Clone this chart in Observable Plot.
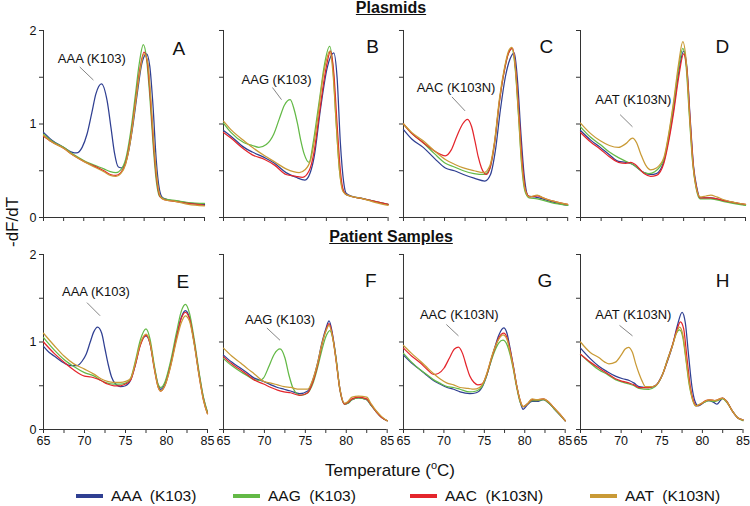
<!DOCTYPE html>
<html><head><meta charset="utf-8">
<script src="https://cdn.jsdelivr.net/npm/d3@7"></script>
<script src="https://cdn.jsdelivr.net/npm/@observablehq/plot@0.6"></script>
<style>
body{margin:0;background:#fff;width:750px;height:506px;position:relative;overflow:hidden;font-family:"Liberation Sans",Arial,sans-serif;color:#111;}
.abs{position:absolute;white-space:pre;}
</style></head><body>
<script>
// ---------- data ----------
const seriesNames = ["AAA (K103)", "AAG (K103)", "AAC (K103N)", "AAT (K103N)"];
const seriesColors = ["#2f3f92", "#63b946", "#e4252c", "#c99a36"];
const panelLetters = ["A","B","C","D","E","F","G","H"];
const xTicks = [65, 67.5, 70, 72.5, 75, 77.5, 80, 82.5, 85];
const xTickLabels = [65, 70, 75, 80, 85];
const yTicks = [0, 0.5, 1, 1.5, 2];
const yTickLabels = [0, 1, 2];

// Panel A (Plasmids)
const A_AAA = [[65,0.91],[66,0.83],[67.5,0.75],[68.5,0.70],[69.1,0.69],[69.8,0.75],[70.4,0.89],[71,1.12],[71.5,1.32],[72.2,1.43],[72.9,1.25],[73.4,0.95],[73.8,0.70],[74.3,0.54],[74.8,0.53],[75.5,0.68],[76.1,0.98],[76.7,1.36],[77.2,1.64],[77.8,1.75],[78.2,1.62],[78.6,1.2],[79,0.62],[79.4,0.30],[79.8,0.21],[80.5,0.19],[82,0.17],[83.5,0.15],[85,0.14]];
const A_AAG = [[65,0.89],[66,0.82],[67.5,0.75],[68.8,0.67],[70,0.61],[71.3,0.56],[72.5,0.52],[73.3,0.49],[74,0.48],[74.6,0.51],[75.2,0.62],[75.8,0.90],[76.4,1.30],[76.9,1.65],[77.4,1.85],[77.8,1.70],[78.2,1.30],[78.6,0.80],[79,0.40],[79.4,0.23],[80,0.20],[81.5,0.18],[83,0.16],[85,0.15]];
const A_AAC = [[65,0.87],[66,0.81],[67.5,0.74],[68.8,0.66],[70,0.60],[71.3,0.55],[72.5,0.50],[73.3,0.46],[74,0.45],[74.6,0.48],[75.2,0.58],[75.8,0.84],[76.4,1.22],[76.9,1.55],[77.5,1.77],[77.9,1.66],[78.3,1.25],[78.7,0.75],[79.1,0.38],[79.5,0.22],[80,0.19],[81.5,0.17],[83,0.15],[85,0.13]];
const A_AAT = [[65,0.88],[66,0.81],[67.5,0.74],[68.8,0.66],[70,0.60],[71.3,0.54],[72.5,0.49],[73.3,0.45],[74,0.44],[74.6,0.47],[75.2,0.57],[75.8,0.82],[76.4,1.20],[76.9,1.52],[77.5,1.75],[77.95,1.66],[78.35,1.25],[78.75,0.75],[79.15,0.38],[79.55,0.22],[80,0.19],[81.5,0.17],[83,0.14],[85,0.125]];

// Panel B
const B_AAA = [[65,0.93],[65.9,0.87],[67.5,0.75],[68.5,0.70],[70,0.64],[71.2,0.58],[72.6,0.48],[73.8,0.43],[74.9,0.40],[75.5,0.47],[76,0.64],[76.8,1.17],[77.6,1.60],[78.4,1.76],[78.8,1.50],[79.2,0.80],[79.6,0.38],[79.9,0.26],[80.5,0.23],[82.1,0.20],[83.5,0.17],[85,0.14]];
const B_AAG = [[65,1.01],[65.9,0.91],[67.5,0.80],[68.5,0.77],[69.3,0.75],[70.2,0.78],[71.1,0.89],[71.8,1.06],[72.4,1.20],[73.1,1.26],[73.6,1.15],[74,1.00],[74.4,0.82],[74.8,0.68],[75.4,0.59],[75.9,0.80],[76.4,1.10],[76.8,1.35],[77.2,1.60],[77.9,1.83],[78.3,1.60],[78.7,1.00],[79.1,0.50],[79.5,0.30],[80,0.24],[82,0.20],[83.5,0.17],[85,0.14]];
const B_AAC = [[65,0.91],[65.9,0.85],[67.5,0.73],[68.5,0.67],[70,0.62],[71.2,0.56],[72.6,0.46],[73.8,0.44],[74.6,0.43],[75.4,0.50],[76,0.70],[76.6,1.08],[77.2,1.46],[77.6,1.66],[78,1.78],[78.4,1.55],[78.8,1.0],[79.2,0.50],[79.6,0.28],[80,0.24],[82,0.20],[83.5,0.17],[85,0.14]];
const B_AAT = [[65,1.03],[65.9,0.94],[67.5,0.82],[68.5,0.75],[70,0.66],[71.3,0.59],[72.6,0.52],[73.5,0.49],[74.2,0.48],[74.9,0.51],[75.6,0.62],[76.1,0.85],[76.5,1.10],[77,1.45],[77.5,1.68],[77.9,1.78],[78.3,1.55],[78.7,1.0],[79.1,0.50],[79.5,0.28],[80,0.24],[82,0.20],[83.5,0.16],[85,0.13]];

// Panel C
const C_AAA = [[65,0.94],[66,0.84],[67.4,0.75],[68.8,0.63],[70.1,0.53],[71.2,0.50],[72.3,0.46],[73.6,0.42],[74.9,0.39],[75.6,0.46],[76.2,0.72],[76.8,1.15],[77.4,1.50],[78,1.70],[78.5,1.76],[78.9,1.45],[79.3,0.90],[79.7,0.45],[80.2,0.23],[81,0.22],[81.5,0.21],[83,0.17],[85,0.13]];
const C_AAG = [[65,1.0],[66,0.90],[67.4,0.80],[68.8,0.68],[70.1,0.58],[71.2,0.54],[72.3,0.50],[73.6,0.47],[74.8,0.46],[75.5,0.52],[76.1,0.80],[76.7,1.25],[77.3,1.58],[77.8,1.76],[78.2,1.81],[78.6,1.60],[79,1.10],[79.4,0.55],[79.8,0.28],[80.3,0.21],[81.3,0.20],[83,0.16],[85,0.13]];
const C_AAC = [[65,1.0],[66,0.90],[67.4,0.80],[68.8,0.71],[70.1,0.66],[70.8,0.72],[71.5,0.87],[72.2,1.00],[72.8,1.05],[73.3,0.97],[73.7,0.82],[74.1,0.65],[74.5,0.53],[75.1,0.46],[75.6,0.55],[76.1,0.80],[76.7,1.25],[77.3,1.58],[77.8,1.76],[78.3,1.81],[78.7,1.55],[79.1,1.05],[79.5,0.55],[79.9,0.28],[80.4,0.22],[81.3,0.23],[82,0.21],[83,0.18],[85,0.14]];
const C_AAT = [[65,1.0],[66,0.91],[67.4,0.82],[68.8,0.71],[70.1,0.62],[71.2,0.57],[72.3,0.53],[73.6,0.50],[74.8,0.48],[75.5,0.55],[76.1,0.82],[76.7,1.28],[77.3,1.60],[77.8,1.78],[78.2,1.82],[78.6,1.62],[79,1.12],[79.4,0.58],[79.8,0.30],[80.3,0.22],[81.3,0.24],[82,0.21],[83,0.18],[85,0.14]];

// Panel D
const D_AAA = [[65,0.93],[66.2,0.83],[67.4,0.75],[68.5,0.67],[69.6,0.60],[70.5,0.59],[71.3,0.57],[72.7,0.48],[73.5,0.46],[74.2,0.47],[75.1,0.60],[75.7,0.85],[76.3,1.17],[76.9,1.55],[77.5,1.78],[77.9,1.60],[78.3,1.05],[78.7,0.55],[79.1,0.32],[79.5,0.21],[80.8,0.21],[82.4,0.18],[85,0.135]];
const D_AAG = [[65,0.97],[66.2,0.86],[67.4,0.78],[68.5,0.70],[69.6,0.64],[70.5,0.60],[71.3,0.57],[72.7,0.48],[73.3,0.47],[74,0.49],[75.1,0.62],[75.7,0.88],[76.3,1.22],[76.9,1.60],[77.4,1.81],[77.8,1.62],[78.2,1.08],[78.6,0.58],[79,0.32],[79.5,0.20],[80.8,0.20],[82.4,0.17],[85,0.13]];
const D_AAC = [[65,0.91],[66.2,0.81],[67.4,0.73],[68.5,0.65],[69.6,0.59],[70.5,0.58],[71.1,0.59],[71.6,0.57],[72.7,0.47],[73.5,0.44],[74.2,0.45],[75.1,0.58],[75.7,0.82],[76.3,1.13],[76.9,1.50],[77.5,1.75],[77.9,1.58],[78.3,1.02],[78.7,0.53],[79.1,0.30],[79.5,0.21],[80.8,0.21],[82.4,0.18],[85,0.14]];
const D_AAT = [[65,1.01],[66.2,0.90],[67.4,0.82],[68.5,0.77],[69.6,0.75],[70.5,0.79],[71.3,0.85],[71.8,0.80],[72.3,0.68],[72.9,0.56],[73.5,0.51],[74.2,0.53],[75.1,0.64],[75.7,0.90],[76.3,1.25],[76.9,1.65],[77.4,1.88],[77.8,1.68],[78.2,1.12],[78.6,0.60],[79,0.33],[79.5,0.22],[80.2,0.23],[80.8,0.24],[81.5,0.22],[82.4,0.19],[85,0.14]];

// Panel E (Patient samples)
const E_AAA = [[65,0.95],[65.7,0.88],[66.3,0.84],[67.5,0.76],[68.3,0.73],[69.1,0.73],[69.7,0.78],[70.2,0.86],[70.7,1.0],[71.1,1.11],[71.6,1.17],[72.1,1.10],[72.5,0.92],[72.9,0.74],[73.3,0.60],[73.7,0.53],[74.4,0.49],[75,0.50],[75.6,0.56],[76.2,0.74],[76.8,0.97],[77.5,1.07],[78,0.98],[78.5,0.72],[79,0.50],[79.3,0.46],[79.8,0.52],[80.5,0.75],[81.2,1.05],[81.8,1.28],[82.3,1.36],[82.8,1.28],[83.4,0.98],[84,0.62],[84.5,0.36],[85,0.19]];
const E_AAG = [[65,1.05],[66.3,0.91],[67.5,0.80],[68.7,0.72],[70,0.65],[71.2,0.61],[72,0.56],[72.8,0.53],[73.6,0.52],[74.4,0.52],[75,0.53],[75.6,0.58],[76.2,0.78],[76.8,1.02],[77.5,1.15],[78,1.03],[78.5,0.74],[79,0.51],[79.3,0.48],[79.8,0.54],[80.5,0.78],[81.2,1.10],[81.8,1.35],[82.3,1.43],[82.8,1.33],[83.4,1.02],[84,0.64],[84.5,0.37],[85,0.20]];
const E_AAC = [[65,1.0],[66.3,0.87],[67.5,0.77],[68.7,0.68],[70,0.61],[70.8,0.60],[71.5,0.58],[72,0.56],[72.8,0.52],[73.6,0.50],[74.4,0.50],[75,0.52],[75.6,0.56],[76.2,0.74],[76.8,0.96],[77.5,1.08],[78,0.98],[78.5,0.70],[79,0.48],[79.3,0.44],[79.8,0.50],[80.5,0.73],[81.2,1.04],[81.8,1.27],[82.3,1.34],[82.8,1.27],[83.4,0.98],[84,0.60],[84.5,0.34],[85,0.18]];
const E_AAT = [[65,1.10],[66.3,0.96],[67.5,0.84],[68.7,0.75],[70,0.69],[71.2,0.63],[72,0.58],[72.8,0.55],[73.6,0.54],[74.4,0.54],[75,0.55],[75.6,0.58],[76.2,0.76],[76.8,0.98],[77.5,1.09],[78,0.99],[78.5,0.71],[79,0.48],[79.3,0.44],[79.8,0.50],[80.5,0.72],[81.2,1.01],[81.8,1.22],[82.3,1.30],[82.8,1.24],[83.4,0.96],[84,0.60],[84.5,0.34],[85,0.18]];

// Panel F
const F_AAA = [[65,0.85],[66,0.77],[67.1,0.70],[68,0.64],[68.7,0.59],[69.9,0.55],[70.8,0.51],[71.6,0.48],[72.4,0.46],[73.2,0.44],[74.3,0.41],[75.3,0.44],[75.9,0.56],[76.5,0.76],[77,0.98],[77.5,1.15],[77.9,1.24],[78.3,1.10],[78.7,0.85],[79.2,0.48],[79.8,0.29],[80.2,0.30],[80.7,0.34],[81.5,0.36],[82.5,0.34],[83,0.28],[83.6,0.21],[84.3,0.14],[85,0.10]];
const F_AAG = [[65,0.81],[66,0.73],[67.1,0.66],[68,0.61],[68.7,0.57],[69.4,0.56],[69.9,0.59],[70.5,0.71],[71.2,0.86],[71.9,0.92],[72.5,0.82],[73,0.62],[73.5,0.47],[74.1,0.40],[74.5,0.39],[75.3,0.42],[75.9,0.52],[76.5,0.71],[77,0.90],[77.5,1.06],[78,1.13],[78.4,1.02],[78.8,0.78],[79.2,0.46],[79.8,0.29],[80.2,0.30],[80.7,0.34],[81.5,0.36],[82.5,0.34],[83,0.28],[83.6,0.21],[84.3,0.14],[85,0.10]];
const F_AAC = [[65,0.83],[66,0.75],[67.1,0.68],[68,0.62],[68.7,0.57],[69.9,0.52],[70.8,0.48],[71.6,0.45],[72.4,0.43],[73.2,0.42],[74.3,0.39],[75.3,0.42],[75.9,0.54],[76.5,0.74],[77,0.96],[77.5,1.13],[77.9,1.21],[78.3,1.08],[78.7,0.83],[79.2,0.47],[79.8,0.29],[80.2,0.31],[80.7,0.35],[81.5,0.37],[82.5,0.35],[83,0.29],[83.6,0.21],[84.3,0.14],[85,0.10]];
const F_AAT = [[65,0.93],[66,0.84],[67.1,0.76],[68,0.69],[68.7,0.64],[69.9,0.55],[70.8,0.53],[71.6,0.51],[72.4,0.49],[73.2,0.48],[74.3,0.46],[75.3,0.46],[75.9,0.57],[76.5,0.76],[77,0.97],[77.5,1.12],[77.9,1.19],[78.3,1.07],[78.7,0.83],[79.2,0.48],[79.8,0.30],[80.2,0.32],[80.7,0.37],[81.5,0.38],[82.5,0.37],[83,0.30],[83.6,0.22],[84.3,0.15],[85,0.10]];

// Panel G
const G_AAA = [[65,0.85],[66,0.76],[67.1,0.68],[68,0.61],[68.7,0.56],[69.5,0.52],[70.4,0.48],[71.2,0.46],[72,0.43],[73.2,0.41],[74,0.42],[74.7,0.48],[75.3,0.62],[75.8,0.78],[76.3,0.94],[76.8,1.08],[77.4,1.16],[77.8,1.10],[78.2,0.92],[78.6,0.72],[79,0.50],[79.4,0.33],[79.8,0.23],[80.3,0.28],[80.9,0.32],[81.5,0.32],[82.3,0.34],[83,0.30],[83.6,0.24],[84.3,0.17],[85,0.10]];
const G_AAG = [[65,0.87],[66,0.77],[67.1,0.68],[68,0.62],[68.7,0.57],[69.5,0.53],[70.4,0.49],[71.2,0.48],[72,0.46],[73.2,0.43],[74,0.44],[74.7,0.49],[75.3,0.62],[75.8,0.77],[76.3,0.90],[76.8,0.99],[77.3,1.02],[77.8,0.97],[78.2,0.85],[78.6,0.68],[79,0.48],[79.4,0.32],[79.8,0.26],[80.3,0.29],[80.9,0.33],[81.5,0.33],[82.3,0.34],[83,0.30],[83.6,0.24],[84.3,0.17],[85,0.10]];
const G_AAC = [[65,0.93],[66,0.84],[67.1,0.76],[68,0.68],[68.7,0.63],[69.3,0.64],[70,0.70],[70.7,0.82],[71.3,0.92],[71.8,0.94],[72.3,0.87],[72.8,0.72],[73.2,0.61],[73.7,0.54],[74.2,0.51],[74.7,0.52],[75.3,0.63],[75.8,0.79],[76.3,0.93],[76.8,1.05],[77.4,1.10],[77.8,1.05],[78.2,0.90],[78.6,0.71],[79,0.50],[79.4,0.34],[79.8,0.26],[80.3,0.29],[80.9,0.34],[81.5,0.34],[82.3,0.35],[83,0.31],[83.6,0.25],[84.3,0.18],[85,0.10]];
const G_AAT = [[65,0.96],[66,0.87],[67.1,0.78],[68,0.70],[68.7,0.64],[69.5,0.58],[70.4,0.53],[71.2,0.51],[72,0.48],[73,0.47],[73.7,0.46],[74.4,0.48],[75,0.56],[75.5,0.70],[76,0.86],[76.6,1.0],[77.3,1.08],[77.8,1.03],[78.2,0.88],[78.6,0.70],[79,0.50],[79.4,0.34],[79.8,0.26],[80.3,0.29],[80.9,0.35],[81.5,0.34],[82.3,0.35],[83,0.31],[83.6,0.25],[84.3,0.18],[85,0.10]];

// Panel H
const H_AAA = [[65,0.93],[66.2,0.81],[67.3,0.72],[68.3,0.66],[69.3,0.61],[70.2,0.58],[71,0.56],[71.6,0.53],[72.2,0.49],[73.4,0.48],[74.2,0.50],[75.1,0.63],[75.7,0.78],[76.3,0.95],[76.9,1.18],[77.5,1.34],[77.9,1.22],[78.3,0.85],[78.7,0.50],[79.1,0.32],[79.5,0.27],[80.2,0.31],[80.8,0.33],[81.4,0.31],[81.8,0.29],[82.2,0.33],[82.5,0.36],[83,0.32],[83.7,0.21],[84.4,0.13],[85,0.11]];
const H_AAG = [[65,0.86],[66.2,0.76],[67.3,0.68],[68.3,0.63],[69.3,0.57],[70.2,0.54],[71,0.52],[71.6,0.50],[72.2,0.47],[73.4,0.46],[74.2,0.49],[75.1,0.63],[75.7,0.80],[76.3,0.96],[76.8,1.10],[77.2,1.14],[77.6,1.05],[78,0.78],[78.4,0.50],[78.8,0.34],[79.2,0.27],[79.6,0.28],[80.2,0.31],[80.8,0.33],[81.5,0.32],[82.5,0.35],[83,0.31],[83.7,0.21],[84.4,0.13],[85,0.10]];
const H_AAC = [[65,0.86],[66.2,0.77],[67.3,0.70],[68.3,0.64],[69.3,0.58],[70.2,0.55],[71,0.53],[71.6,0.51],[72.2,0.48],[73.4,0.48],[74.2,0.50],[75.1,0.63],[75.7,0.79],[76.3,0.96],[76.9,1.15],[77.3,1.23],[77.7,1.15],[78.1,0.82],[78.5,0.50],[78.9,0.33],[79.3,0.27],[79.8,0.29],[80.4,0.33],[80.9,0.34],[81.5,0.33],[82.5,0.36],[83,0.32],[83.7,0.21],[84.4,0.13],[85,0.11]];
const H_AAT = [[65,1.0],[66.2,0.88],[67.3,0.82],[68,0.77],[68.5,0.75],[69.3,0.77],[70,0.85],[70.5,0.92],[70.9,0.94],[71.4,0.88],[71.8,0.75],[72.2,0.64],[72.6,0.55],[73,0.49],[73.6,0.49],[74.2,0.50],[75.1,0.63],[75.7,0.79],[76.3,0.95],[76.8,1.10],[77.2,1.17],[77.6,1.08],[78,0.80],[78.4,0.52],[78.8,0.34],[79.2,0.27],[79.7,0.29],[80.3,0.32],[80.8,0.34],[81.5,0.33],[82.5,0.36],[83,0.32],[83.7,0.21],[84.4,0.13],[85,0.11]];

const panelSeries = [
  [A_AAA, A_AAG, A_AAC, A_AAT], [B_AAA, B_AAG, B_AAC, B_AAT],
  [C_AAA, C_AAG, C_AAC, C_AAT], [D_AAA, D_AAG, D_AAC, D_AAT],
  [E_AAA, E_AAG, E_AAC, E_AAT], [F_AAA, F_AAG, F_AAC, F_AAT],
  [G_AAA, G_AAG, G_AAC, G_AAT], [H_AAA, H_AAG, H_AAC, H_AAT]
];

// ---------- layout (positions in data units / pixels) ----------
const frames = [ // [left, right, top, bottom] pixel frame of each panel
  [43, 204, 30, 217], [222.7, 387.3, 30, 217], [403.3, 567.5, 30, 217], [580, 745, 30, 217],
  [42.7, 206.7, 253.5, 428.5], [223.3, 387, 253.5, 428.5], [403.3, 565, 253.5, 428.5], [580, 742.5, 253.5, 428.5]
];
const letterPos = [[81.8,1.80],[83.1,1.82],[82.4,1.82],[82.2,1.82],[82.0,1.69],[83.0,1.70],[82.5,1.70],[82.5,1.70]];
const annoPos = [[71.0,1.70],[71.45,1.47],[71.4,1.39],[71.4,1.26],[71.4,1.57],[71.9,1.25],[71.9,1.31],[71.5,1.31]];
const leaders = [
  [69.5,1.61,71.2,1.47],[70.95,1.39,72.05,1.26],[70.9,1.29,72.5,1.14],[69.8,1.10,71.3,0.97],
  [70.3,1.45,71.9,1.30],[70.3,1.16,71.9,1.02],[70.3,1.20,71.8,1.07],[69.8,1.19,71.4,1.07]
];

const FONT = '"Liberation Sans", Arial, Helvetica, sans-serif';
const ML = 30, MR = 5, MT = 8, MB = 26;

function makePanel(i) {
  const [x0, x1, y0, y1] = frames[i];
  const rows = [];
  panelSeries[i].forEach((pts, k) => pts.forEach(([T, v]) => rows.push({T, v, s: seriesNames[k]})));
  const isBottom = i >= 4, isLeft = i % 4 === 0;
  const col = i % 4;
  const [lx1, ly1, lx2, ly2] = leaders[i];
  const svg = Plot.plot({
    width: x1 - x0 + ML + MR,
    height: y1 - y0 + MT + MB,
    marginLeft: ML, marginRight: MR, marginTop: MT, marginBottom: MB,
    x: {domain: [65, 85]},
    y: {domain: [0, 2]},
    color: {domain: seriesNames, range: seriesColors},
    style: {fontFamily: FONT, fontSize: "12.5px", color: "#111", background: "transparent", overflow: "visible"},
    marks: [
      Plot.axisX({ticks: xTicks, tickSize: 4, tickPadding: 3, label: null, stroke: "#333",
        tickFormat: d => (isBottom && xTickLabels.includes(d)) ? String(d) : "", fontSize: 12.5}),
      Plot.axisY({ticks: yTicks, tickSize: 4, tickPadding: 3, label: null, stroke: "#333",
        tickFormat: d => (isLeft && yTickLabels.includes(d)) ? String(d) : "", fontSize: 12.5}),
      Plot.ruleX([65], {y1: 0, y2: 2, stroke: "#333", strokeWidth: 1}),
      Plot.ruleY([0], {x1: 65, x2: 85, stroke: "#333", strokeWidth: 1}),
      Plot.line(rows, {x: "T", y: "v", z: "s", stroke: "s", curve: "monotone-x", strokeWidth: 1.25}),
      Plot.link([0], {x1: () => lx1, y1: () => ly1, x2: () => lx2, y2: () => ly2, stroke: "#666", strokeWidth: 0.8}),
      Plot.text([seriesNames[col]], {x: () => annoPos[i][0], y: () => annoPos[i][1], text: d => d, fontSize: 13, fill: "#111"}),
      Plot.text([panelLetters[i]], {x: () => letterPos[i][0], y: () => letterPos[i][1], text: d => d, fontSize: 19, fill: "#111"})
    ]
  });
  const wrap = document.createElement("div");
  wrap.className = "abs";
  wrap.style.left = (x0 - ML) + "px";
  wrap.style.top = (y0 - MT) + "px";
  wrap.appendChild(svg);
  document.body.appendChild(wrap);
}
for (let i = 0; i < 8; i++) makePanel(i);

function addText(html, cx, cy, css) {
  const d = document.createElement("div");
  d.className = "abs";
  d.innerHTML = html;
  d.style.cssText += css;
  d.style.left = cx + "px";
  d.style.top = cy + "px";
  d.style.transform = (d.style.transform || "") ;
  document.body.appendChild(d);
  return d;
}
addText("Plasmids", 391, 8, "font-size:16px;font-weight:bold;text-decoration:underline;transform:translate(-50%,-50%);");
addText("Patient Samples", 391, 237, "font-size:16px;font-weight:bold;text-decoration:underline;transform:translate(-50%,-50%);");
addText("-dF/dT", 13, 222, "font-size:17px;transform:translate(-50%,-50%) rotate(-90deg);");
addText("Temperature (<sup style='font-size:11px;vertical-align:7px'>o</sup>C)", 390, 470, "font-size:17px;transform:translate(-50%,-50%);");

// legend
const legendX = [76, 233, 410, 590];
seriesNames.forEach((name, k) => {
  const item = document.createElement("div");
  item.className = "abs";
  item.style.cssText += "display:flex;align-items:center;font-size:15.5px;transform:translateY(-50%);";
  item.style.left = legendX[k] + "px";
  item.style.top = "496px";
  const sw = document.createElement("span");
  sw.style.cssText = `display:inline-block;width:27px;height:4px;background:${seriesColors[k]};margin-right:8px;`;
  const tx = document.createElement("span");
  tx.textContent = name.replace(" ", "  ");
  item.appendChild(sw); item.appendChild(tx);
  document.body.appendChild(item);
});
</script>
</body></html>
